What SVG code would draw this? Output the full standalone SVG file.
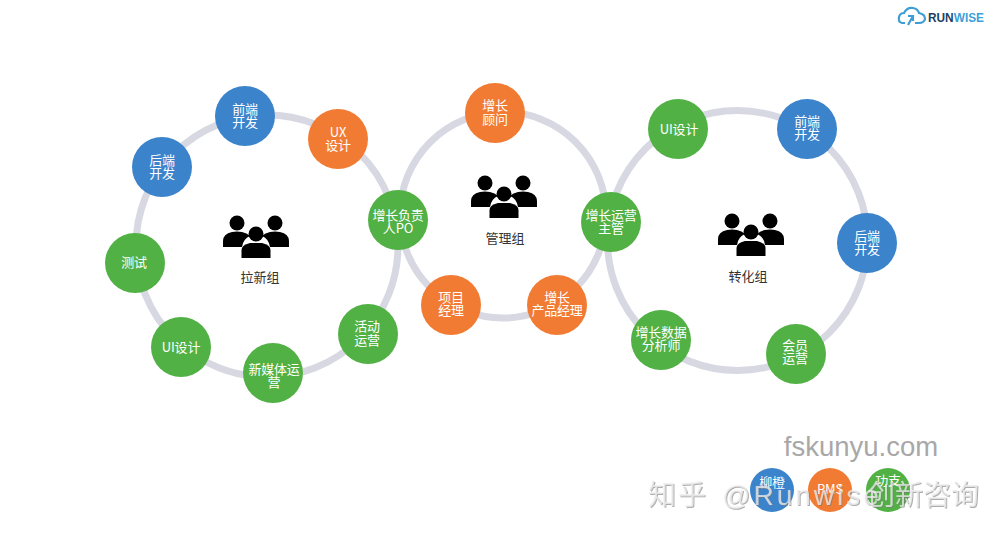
<svg xmlns="http://www.w3.org/2000/svg" width="1005" height="536" viewBox="0 0 1005 536">
<defs>
<style>
text{font-family:"Noto Sans CJK SC","Liberation Sans",sans-serif;text-anchor:middle}
.ring{fill:none;stroke:#d7d8e2;stroke-width:7}
.n text{fill:#fff;font-size:13px;letter-spacing:-.2px}
.g{fill:#52b145}.b{fill:#3b83cb}.o{fill:#f27b33}
.l{fill:#333;font-size:13px}
.wm{fill:#ececec;fill-opacity:.75;font-family:"Liberation Sans","Noto Sans CJK SC",sans-serif;font-size:28px;text-anchor:start;filter:url(#sh)}
</style>
<filter id="sh" x="-5%" y="-20%" width="110%" height="140%"><feDropShadow dx="1" dy="1" stdDeviation=".5" flood-color="#777" flood-opacity=".8"/></filter>
<g id="people">
<circle cx="-19" cy="-14" r="7.500"/><circle cx="19" cy="-14" r="7.500"/>
<path d="M-33 10V4Q-33 -3 -24 -5Q-19 -6 -14 -5Q-9 -4 -6 -1Q-13 2 -14 10Z"/>
<path d="M33 10V4Q33 -3 24 -5Q19 -6 14 -5Q9 -4 6 -1Q13 2 14 10Z"/>
<circle cx="0" cy="-3" r="7.500"/>
<path d="M-14.500 21V13Q-14.500 8 -6 6H6Q14.500 8 14.500 13V21Z"/>
</g>
</defs>
<rect width="1005" height="536" fill="#fff"/>
<g id="connectors">
<circle class="ring" cx="267" cy="246" r="131"/>
<circle class="ring" cx="503" cy="215" r="103"/>
<circle class="ring" cx="737.500" cy="240.500" r="130"/>
</g>
<g id="group-laxin"><use href="#people" x="256" y="237"/><text class="l" x="260" y="282">拉新组</text></g>
<g id="group-guanli"><use href="#people" x="504" y="197"/><text class="l" x="505" y="243">管理组</text></g>
<g id="group-zhuanhua"><use href="#people" x="751" y="235"/><text class="l" x="748" y="281">转化组</text></g>
<g class="n">
<g id="n1"><circle class="b" cx="245" cy="116" r="30"/><text x="245" y="114">前端<tspan x="245" dy="13">开发</tspan></text></g>
<g id="n2"><circle class="b" cx="162" cy="167" r="30"/><text x="162" y="165">后端<tspan x="162" dy="13">开发</tspan></text></g>
<g id="n3"><circle class="o" cx="338" cy="139" r="30"/><text x="338" y="137">UX<tspan x="338" dy="13">设计</tspan></text></g>
<g id="n4"><circle class="g" cx="135" cy="263" r="30"/><text x="134" y="267">测试</text></g>
<g id="n5"><circle class="g" cx="181" cy="347" r="30"/><text x="181" y="352">UI设计</text></g>
<g id="n6"><circle class="g" cx="273" cy="373" r="30"/><text x="274" y="374">新媒体运<tspan x="274" dy="13">营</tspan></text></g>
<g id="n7"><circle class="g" cx="368" cy="334" r="30"/><text x="367" y="331">活动<tspan x="367" dy="14">运营</tspan></text></g>
<g id="n8"><circle class="g" cx="398" cy="220" r="30"/><text x="398" y="220">增长负责<tspan x="398" dy="13">人PO</tspan></text></g>
<g id="n9"><circle class="o" cx="495" cy="113" r="30"/><text x="495" y="110">增长<tspan x="495" dy="14">顾问</tspan></text></g>
<g id="n10"><circle class="o" cx="451" cy="305" r="30"/><text x="451" y="302">项目<tspan x="451" dy="13">经理</tspan></text></g>
<g id="n11"><circle class="o" cx="557" cy="305" r="30"/><text x="557" y="302">增长<tspan x="557" dy="13">产品经理</tspan></text></g>
<g id="n12"><circle class="g" cx="611" cy="222" r="30"/><text x="611" y="220">增长运营<tspan x="611" dy="13">主管</tspan></text></g>
<g id="n13"><circle class="g" cx="678" cy="129" r="30"/><text x="679" y="134">UI设计</text></g>
<g id="n14"><circle class="b" cx="807" cy="129" r="30"/><text x="807" y="126">前端<tspan x="807" dy="13">开发</tspan></text></g>
<g id="n15"><circle class="b" cx="867" cy="243" r="30"/><text x="867" y="241">后端<tspan x="867" dy="13">开发</tspan></text></g>
<g id="n16"><circle class="g" cx="796" cy="354" r="30"/><text x="795" y="350">会员<tspan x="795" dy="13">运营</tspan></text></g>
<g id="n17"><circle class="g" cx="661" cy="340" r="30"/><text x="661" y="337">增长数据<tspan x="661" dy="13">分析师</tspan></text></g>
</g>
<g id="legend" class="n">
<g id="lg1"><circle class="b" cx="772" cy="490" r="22"/><text x="772" y="487">柳橙</text></g>
<g id="lg2"><circle class="o" cx="830" cy="490" r="22"/><text x="830" y="494">PMS</text></g>
<g id="lg3"><circle class="g" cx="888" cy="490" r="22"/><text x="888" y="485">功支</text></g>
</g>
<g id="logo">
<path d="M905 23H902Q898 22 899 17Q900 13 904 13Q907 7 913 8Q918 9 919 13Q925 14 925 19Q924 23 919 23H915" fill="none" stroke="#3d9ed6" stroke-width="2.200"/>
<path d="M908 25L913 16M908 16H913V21" fill="none" stroke="#3d9ed6" stroke-width="2.200"/>
<text x="928" y="22" textLength="56" lengthAdjust="spacingAndGlyphs" style="font-family:'Liberation Sans',sans-serif;font-weight:700;font-size:13px;text-anchor:start;fill:#1f3f5f">RUN<tspan fill="#3f9fd8">WISE</tspan></text>
</g>
<g id="watermark">
<text x="861" y="456" style="fill:#a8a8a8;font-family:'Liberation Sans',sans-serif;font-size:27.500px">fskunyu.com</text>
<text class="wm" y="505"><tspan x="648" letter-spacing="2">知乎</tspan><tspan x="722" letter-spacing="3">@Runwise</tspan><tspan x="867">创新咨询</tspan></text>
</g>
</svg>
